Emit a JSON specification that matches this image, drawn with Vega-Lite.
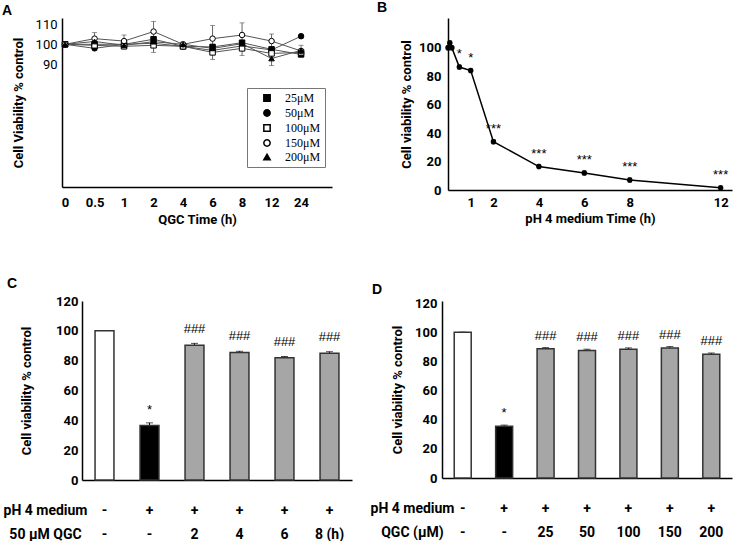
{
"$schema":"https://vega.github.io/schema/vega-lite/v6.json",
"background":"white",
"padding":{"left":2,"top":1,"right":2,"bottom":0},
"config":{
 "font":"Roboto",
 "view":{"stroke":null},
 "axis":{"grid":false,"domainColor":"#000","domainWidth":1.5,"ticks":false,"tickSize":0,"labelColor":"#000","titleColor":"#000","labelFontWeight":"bold","titleFontWeight":"bold","labelFontSize":13,"titleFontSize":13,"labelFont":"Roboto","titleFont":"Roboto"},
 "title":{"font":"Liberation Sans","fontSize":14,"fontWeight":"bold","anchor":"start","frame":"group","color":"#000"}
},
"spacing":51,
"resolve":{"scale":{"x":"independent","y":"independent","fill":"independent","shape":"independent"}},
"vconcat":[
{"spacing":45,"resolve":{"scale":{"x":"independent","y":"independent","fill":"independent","shape":"independent"}},
 "hconcat":[
 {
 "width":270,"height":169,
 "title":{"text":"A","dx":-60,"offset":0},
 "data":{"values":[
  {"t":0,"s":"25μM","v":100,"e":1},{"t":0.5,"s":"25μM","v":100,"e":1},{"t":1,"s":"25μM","v":100,"e":1},{"t":2,"s":"25μM","v":102.5,"e":1},{"t":4,"s":"25μM","v":99,"e":1},{"t":6,"s":"25μM","v":98.7,"e":1},{"t":8,"s":"25μM","v":100.8,"e":1},{"t":12,"s":"25μM","v":97.5,"e":1},{"t":24,"s":"25μM","v":95,"e":1},
  {"t":0,"s":"50μM","v":100,"e":1},{"t":0.5,"s":"50μM","v":98,"e":1},{"t":1,"s":"50μM","v":100,"e":1},{"t":2,"s":"50μM","v":100.5,"e":1},{"t":4,"s":"50μM","v":99,"e":1},{"t":6,"s":"50μM","v":97,"e":1},{"t":8,"s":"50μM","v":99.2,"e":1},{"t":12,"s":"50μM","v":97.2,"e":1},{"t":24,"s":"50μM","v":104,"e":1},
  {"t":0,"s":"100μM","v":100,"e":1},{"t":0.5,"s":"100μM","v":99.5,"e":1},{"t":1,"s":"100μM","v":99,"e":1},{"t":2,"s":"100μM","v":99.5,"e":3.5},{"t":4,"s":"100μM","v":99,"e":1},{"t":6,"s":"100μM","v":96,"e":3.5},{"t":8,"s":"100μM","v":98,"e":3.5},{"t":12,"s":"100μM","v":95.5,"e":1},{"t":24,"s":"100μM","v":96,"e":1},
  {"t":0,"s":"150μM","v":100,"e":1},{"t":0.5,"s":"150μM","v":102.8,"e":3},{"t":1,"s":"150μM","v":101.6,"e":3},{"t":2,"s":"150μM","v":106.3,"e":5},{"t":4,"s":"150μM","v":100,"e":1},{"t":6,"s":"150μM","v":102.8,"e":6.5},{"t":8,"s":"150μM","v":104.6,"e":6},{"t":12,"s":"150μM","v":101.6,"e":3.5},{"t":24,"s":"150μM","v":96.7,"e":1},
  {"t":0,"s":"200μM","v":100,"e":1},{"t":0.5,"s":"200μM","v":101.4,"e":1},{"t":1,"s":"200μM","v":99.5,"e":1},{"t":2,"s":"200μM","v":101.3,"e":1},{"t":4,"s":"200μM","v":100,"e":1},{"t":6,"s":"200μM","v":98,"e":1},{"t":8,"s":"200μM","v":100.3,"e":1},{"t":12,"s":"200μM","v":93,"e":3.5},{"t":24,"s":"200μM","v":97,"e":2.5}
 ]},
 "encoding":{
  "x":{"field":"t","type":"ordinal","scale":{"type":"point","domain":[0,0.5,1,2,4,6,8,12,24],"padding":0.576,"align":0.09},"axis":{"labelAngle":0,"labelPadding":9,"title":"QGC Time (h)","titlePadding":4}},
  "y":{"field":"v","type":"quantitative","scale":{"domain":[29.5,113],"nice":false,"zero":false},"axis":{"values":[90,100,110],"labelFontWeight":"normal","labelPadding":5,"titlePadding":10,"title":"Cell Viability % control"}}
 },
 "layer":[
  {"mark":{"type":"errorbar","ticks":{"size":5},"color":"#666"},"encoding":{"yError":{"field":"e"}}},
  {"mark":{"type":"line","color":"#555","strokeWidth":1},"encoding":{"detail":{"field":"s"}}},
  {"mark":{"type":"point","filled":true,"stroke":"#000","strokeWidth":1,"size":30,"opacity":1},
   "encoding":{
    "shape":{"field":"s","type":"nominal","scale":{"domain":["25μM","50μM","100μM","150μM","200μM"],"range":["square","circle","square","circle","triangle-up"]},
      "legend":{"title":null,"orient":"none","legendX":185,"legendY":70,"strokeColor":"#777","fillColor":"#fff","padding":4,"rowPadding":1,"symbolSize":40,"symbolOffset":10,"labelOffset":12,"symbolOpacity":1,"labelFont":"Liberation Serif","labelFontSize":12,"labelFontWeight":"normal","labelColor":"#000",
        "encode":{"symbols":{"update":{"stroke":{"value":"#000"},"strokeWidth":{"value":1}}}}}},
    "fill":{"field":"s","type":"nominal","scale":{"domain":["25μM","50μM","100μM","150μM","200μM"],"range":["#000","#000","#fff","#fff","#000"]},
      "legend":{"title":null,"orient":"none","legendX":185,"legendY":70,"strokeColor":"#777","fillColor":"#fff","padding":4,"rowPadding":1,"symbolSize":40,"symbolOffset":10,"labelOffset":12,"symbolOpacity":1,"labelFont":"Liberation Serif","labelFontSize":12,"labelFontWeight":"normal","labelColor":"#000",
        "encode":{"symbols":{"update":{"stroke":{"value":"#000"},"strokeWidth":{"value":1}}}}}}
   }}
 ]
 },
 {
 "width":284,"height":172,
 "title":{"text":"B","dx":-71,"offset":3},
 "data":{"values":[
  {"t":0,"v":100,"e":1.5,"sig":""},{"t":0.08,"v":103.5,"e":1.5,"sig":""},{"t":0.17,"v":100,"e":1.5,"sig":""},
  {"t":0.5,"v":86.5,"e":1.5,"sig":"*"},{"t":1,"v":84,"e":1.5,"sig":"*"},{"t":2,"v":34,"e":1.5,"sig":"***"},
  {"t":4,"v":16.5,"e":1.5,"sig":"***"},{"t":6,"v":12,"e":1.5,"sig":"***"},{"t":8,"v":7,"e":1.5,"sig":"***"},{"t":12,"v":1.5,"e":1.5,"sig":"***"}
 ]},
 "encoding":{
  "x":{"field":"t","type":"quantitative","scale":{"domain":[0,12.5],"nice":false},"axis":{"values":[1,2,4,6,8,12],"labelPadding":6,"labelFlush":false,"title":"pH 4 medium Time (h)","titlePadding":3}},
  "y":{"field":"v","type":"quantitative","scale":{"domain":[0,121],"nice":false},"axis":{"values":[0,20,40,60,80,100],"labelPadding":7,"titlePadding":5,"title":"Cell viability % control"}}
 },
 "layer":[
  {"mark":{"type":"line","color":"#000","strokeWidth":1.5},"encoding":{}},
  {"mark":{"type":"errorbar","ticks":{"size":4},"color":"#000"},"encoding":{"yError":{"field":"e"}}},
  {"mark":{"type":"point","filled":true,"color":"#000","size":30,"opacity":1},"encoding":{}},
  {"mark":{"type":"text","dy":-13,"fontSize":13,"font":"Liberation Sans","color":"#000"},"encoding":{"text":{"field":"sig"}}}
 ]
 }
]},
{"spacing":18,"resolve":{"scale":{"x":"independent","y":"independent","fill":"independent","shape":"independent"}},
 "hconcat":[
 {
 "width":290,"height":179,
 "title":{"text":"C","dx":-55,"offset":4},
 "data":{"values":[
  {"cond":"-|-","grp":"ctrl","v":100,"e":0,"sig":""},
  {"cond":"+|-","grp":"ph","v":36.5,"e":1.8,"sig":"*"},
  {"cond":"+|2","grp":"qgc","v":90.3,"e":1.3,"sig":"###"},
  {"cond":"+|4","grp":"qgc","v":85.5,"e":0.8,"sig":"###"},
  {"cond":"+|6","grp":"qgc","v":82,"e":0.8,"sig":"###"},
  {"cond":"+|8 (h)","grp":"qgc","v":85,"e":1,"sig":"###"}
 ]},
 "encoding":{
  "x":{"field":"cond","type":"nominal","sort":null,"scale":{"paddingInner":0.58,"paddingOuter":0.29,"rangeMin":20},
   "axis":{"labelExpr":"split(datum.label, '|')","labelAngle":0,"labelPadding":23,"labelBaseline":"top","labelLineHeight":24,"labelFontSize":14,
     "title":["pH 4 medium","50 μM QGC"],"titleX":-17,"titleY":23,"titleAlign":"center","titleBaseline":"top","titleLineHeight":24,"titleFontSize":14}},
  "y":{"field":"v","type":"quantitative","scale":{"domain":[0,120],"nice":false},"axis":{"offset":-20,"values":[0,20,40,60,80,100,120],"labelPadding":4,"titlePadding":22,"title":"Cell viability % control"}}
 },
 "layer":[
  {"mark":{"type":"errorbar","ticks":{"size":7},"color":"#000"},"encoding":{"yError":{"field":"e"}}},
  {"mark":{"type":"bar","stroke":"#333","strokeWidth":1.5},"encoding":{"fill":{"field":"grp","type":"nominal","scale":{"domain":["ctrl","ph","qgc"],"range":["#fff","#000","#a6a6a6"]},"legend":null}}},
  {"mark":{"type":"text","dy":-16,"fontSize":13,"font":"Liberation Sans","color":"#000"},"encoding":{"text":{"field":"sig"}}}
 ]
 },
 {
 "width":290,"height":177,
 "title":{"text":"D","dx":-70,"offset":0},
 "data":{"values":[
  {"cond":"-|-","grp":"ctrl","v":100,"e":0,"sig":""},
  {"cond":"+|-","grp":"ph","v":35.5,"e":0.8,"sig":"*"},
  {"cond":"+|25","grp":"qgc","v":88.7,"e":0.8,"sig":"###"},
  {"cond":"+|50","grp":"qgc","v":87.6,"e":0.8,"sig":"###"},
  {"cond":"+|100","grp":"qgc","v":88.3,"e":1,"sig":"###"},
  {"cond":"+|150","grp":"qgc","v":89.3,"e":0.9,"sig":"###"},
  {"cond":"+|200","grp":"qgc","v":85,"e":0.8,"sig":"###"}
 ]},
 "encoding":{
  "x":{"field":"cond","type":"nominal","sort":null,"scale":{"paddingInner":0.59,"paddingOuter":0.295},
   "axis":{"labelExpr":"split(datum.label, '|')","labelAngle":0,"labelPadding":23,"labelBaseline":"top","labelLineHeight":24,"labelFontSize":14,
     "title":["pH 4 medium","QGC (μM)"],"titleX":-30,"titleY":23,"titleAlign":"center","titleBaseline":"top","titleLineHeight":24,"titleFontSize":14}},
  "y":{"field":"v","type":"quantitative","scale":{"domain":[0,121.5],"nice":false},"axis":{"values":[0,20,40,60,80,100,120],"labelPadding":5,"titlePadding":10,"title":"Cell viability  % control"}}
 },
 "layer":[
  {"mark":{"type":"errorbar","ticks":{"size":7},"color":"#000"},"encoding":{"yError":{"field":"e"}}},
  {"mark":{"type":"bar","stroke":"#333","strokeWidth":1.5},"encoding":{"fill":{"field":"grp","type":"nominal","scale":{"domain":["ctrl","ph","qgc"],"range":["#fff","#000","#a6a6a6"]},"legend":null}}},
  {"mark":{"type":"text","dy":-13,"fontSize":13,"font":"Liberation Sans","color":"#000"},"encoding":{"text":{"field":"sig"}}}
 ]
 }
]}
]
}
